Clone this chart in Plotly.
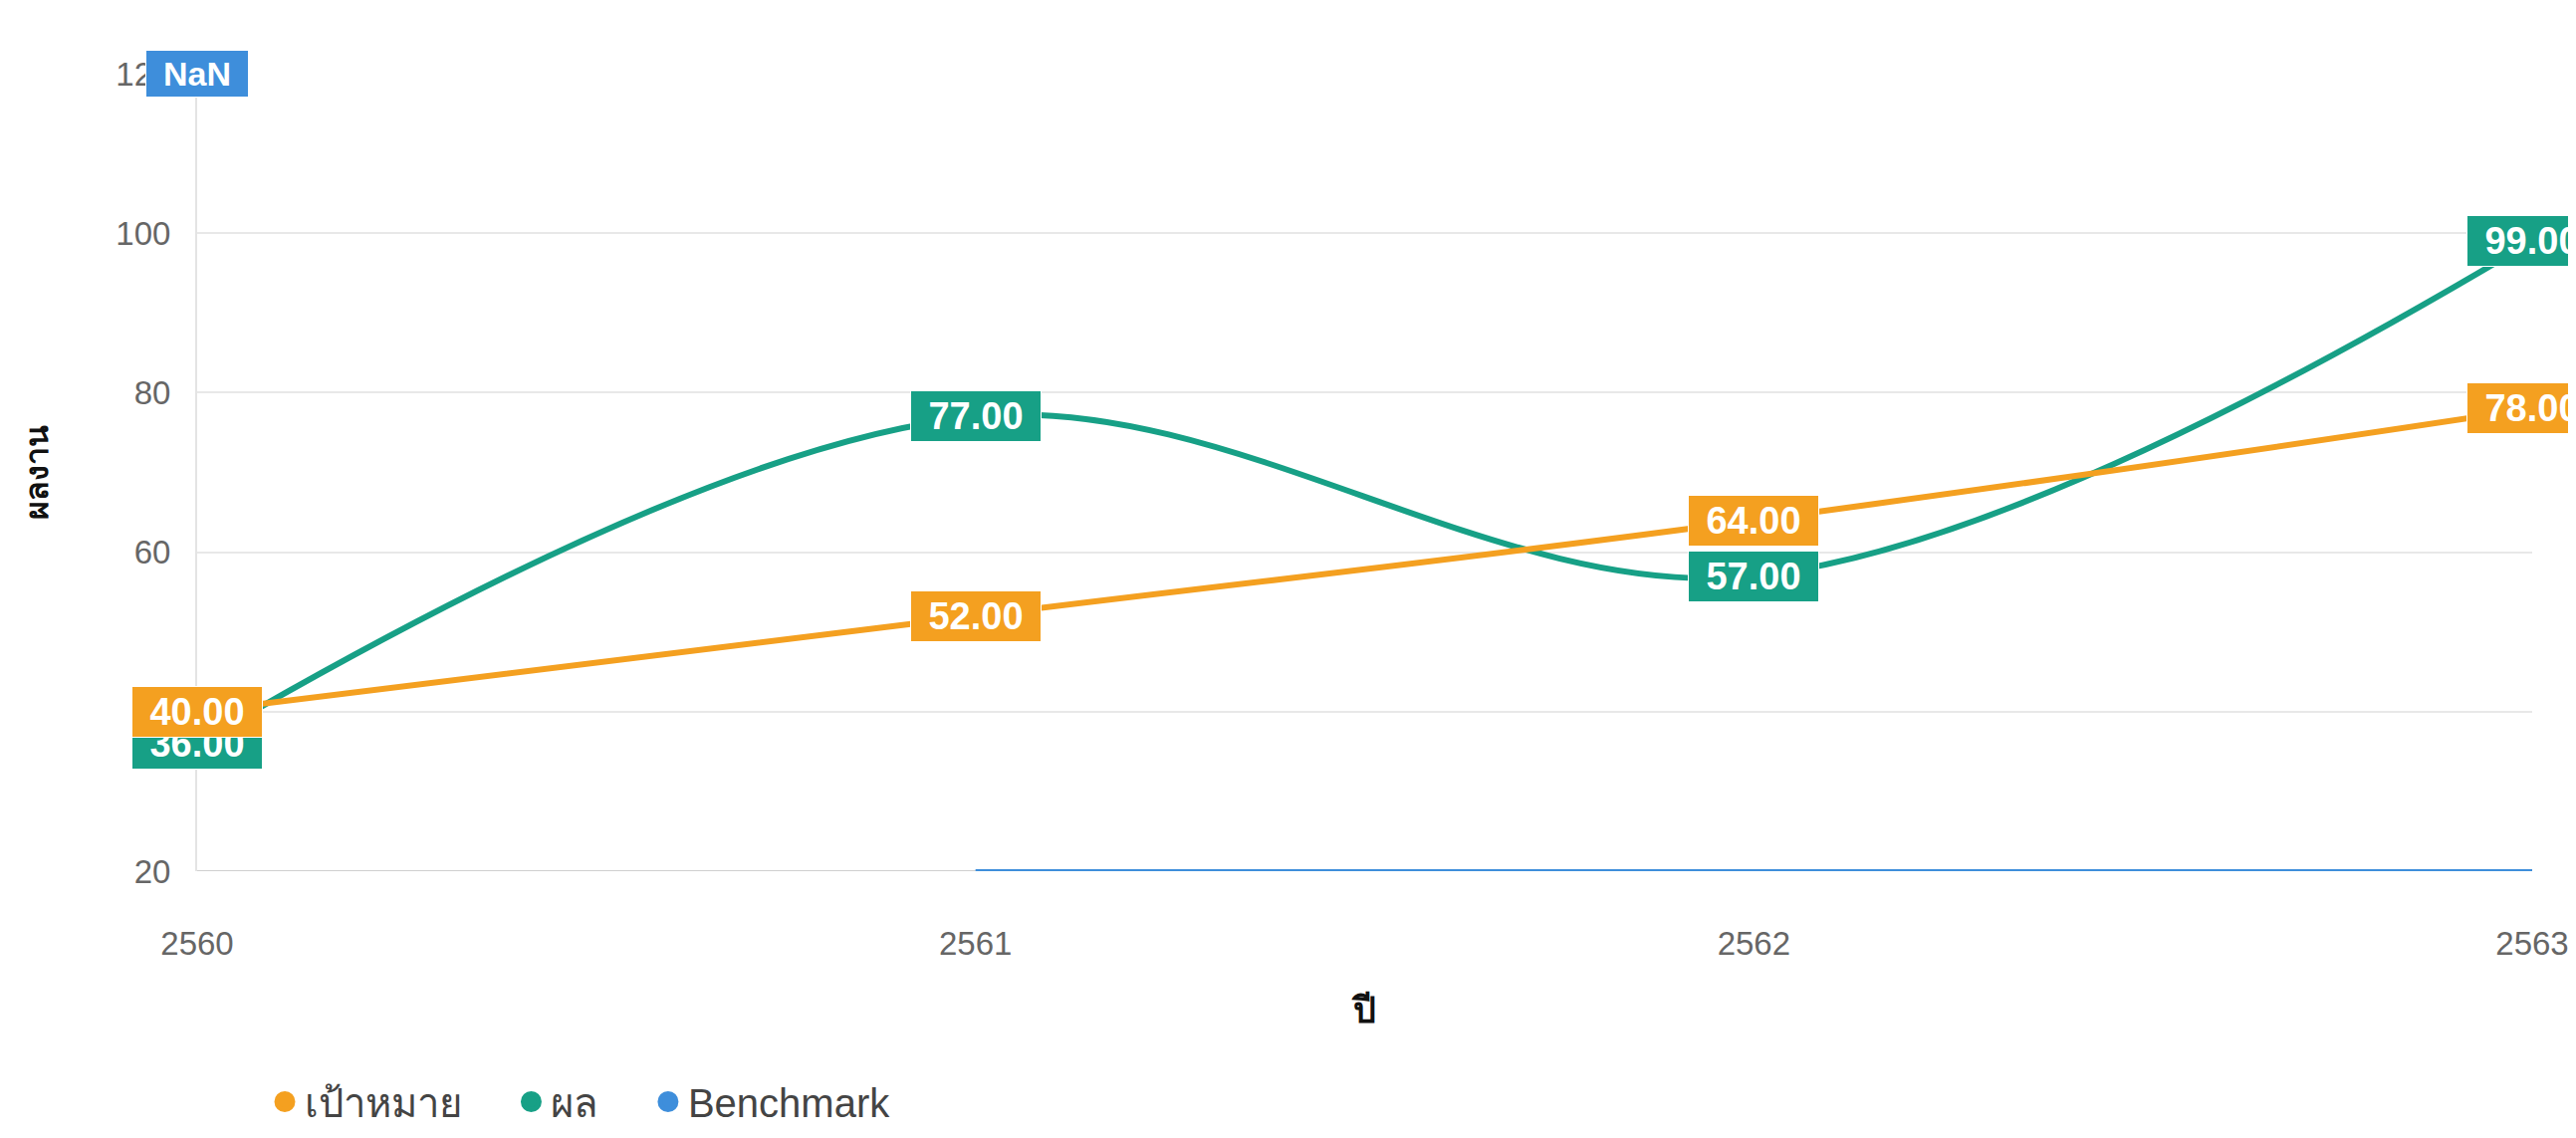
import plotly.graph_objects as go

years = [2560, 2561, 2562, 2563]
target = [40, 52, 64, 78]          # เป้าหมาย
result = [36, 77, 57, 99]          # ผล
benchmark = [None, 20, 20, 20]     # Benchmark
y_ticks = [20, 40, 60, 80, 100, 120]
series_names = ["เป้าหมาย", "ผล", "Benchmark"]

C_ORANGE = "#F4A020"
C_GREEN = "#17A086"
C_BLUE = "#3E8EDB"

fig = go.Figure()

# lines (legend shown through marker-only proxies below)
fig.add_trace(go.Scatter(x=years, y=benchmark, mode="lines", name=series_names[2],
                         line=dict(color=C_BLUE, width=4), showlegend=False,
                         cliponaxis=False, connectgaps=False))
fig.add_trace(go.Scatter(x=years, y=result, mode="lines", name=series_names[1],
                         line=dict(color=C_GREEN, width=6, shape="spline", smoothing=1.0),
                         showlegend=False, cliponaxis=False))
fig.add_trace(go.Scatter(x=years, y=target, mode="lines", name=series_names[0],
                         line=dict(color=C_ORANGE, width=6, shape="spline", smoothing=1.3),
                         showlegend=False, cliponaxis=False))

# legend proxies (circles); trailing no-break spaces widen the gap between entries
pad = "\u00a0" * 4
for name, col in zip(series_names, [C_ORANGE, C_GREEN, C_BLUE]):
    fig.add_trace(go.Scatter(x=[None], y=[None], mode="markers", name=name + pad,
                             marker=dict(color=col, size=16, line=dict(color=col, width=5))))

annotations = []
label_font = dict(family="Liberation Sans, Arial, sans-serif", size=38, color="white")


def add_labels(vals, col):
    for xv, yv in zip(years, vals):
        if yv is None:
            continue
        annotations.append(dict(x=xv, y=yv, xref="x", yref="y", text=f"<b>{yv:.2f}</b>",
                                showarrow=False, bgcolor=col, bordercolor="white",
                                borderwidth=1, borderpad=3, width=124, height=44,
                                font=label_font, align="center", valign="middle"))


add_labels(result, C_GREEN)
add_labels(target, C_ORANGE)
# NaN label for the missing Benchmark value, pinned at the top of the axis
for xv, yv in zip(years, benchmark):
    if yv is None:
        annotations.append(dict(x=xv, y=max(y_ticks), xref="x", yref="y", text="<b>NaN</b>",
                                showarrow=False, bgcolor=C_BLUE, bordercolor="white",
                                borderwidth=1, borderpad=3, width=96, height=40,
                                font=dict(family="Liberation Sans, Arial, sans-serif",
                                          size=34, color="white")))

fig.update_layout(
    width=2587, height=1143,
    paper_bgcolor="white", plot_bgcolor="white",
    margin=dict(l=190, r=52, t=66, b=263),
    font=dict(family="Liberation Sans, Arial, sans-serif", color="#555"),
    annotations=annotations,
    legend=dict(orientation="h", x=0.029, xanchor="left", y=-0.289, yanchor="middle",
                font=dict(size=40, color="#444"), itemclick=False,
                bgcolor="rgba(0,0,0,0)"),
    showlegend=True,
)

fig.update_xaxes(range=[years[0], years[-1]], tickvals=years, ticktext=[str(y) for y in years],
                 showgrid=False, zeroline=False, showline=False,
                 ticks="", ticklabelstandoff=50,
                 tickfont=dict(size=33, color="#666"),
                 title=dict(text="<b>ปี</b>", font=dict(size=36, color="#111"), standoff=36))
fig.update_yaxes(range=[y_ticks[0], y_ticks[-1]], tickvals=y_ticks,
                 showgrid=True, gridcolor="#E8E8E8", gridwidth=2,
                 zeroline=False, showline=True, linecolor="#E4E4E4", linewidth=2,
                 ticks="", ticklabelstandoff=18,
                 tickfont=dict(size=33, color="#666"),
                 title=dict(text="<b>ผลงาน</b>", font=dict(size=32, color="#111"), standoff=58))

# bottom gridline (axis baseline) slightly darker
fig.add_hline(y=y_ticks[0], line=dict(color="#D0D0D0", width=2), layer="below")

fig.write_html("out.html")
